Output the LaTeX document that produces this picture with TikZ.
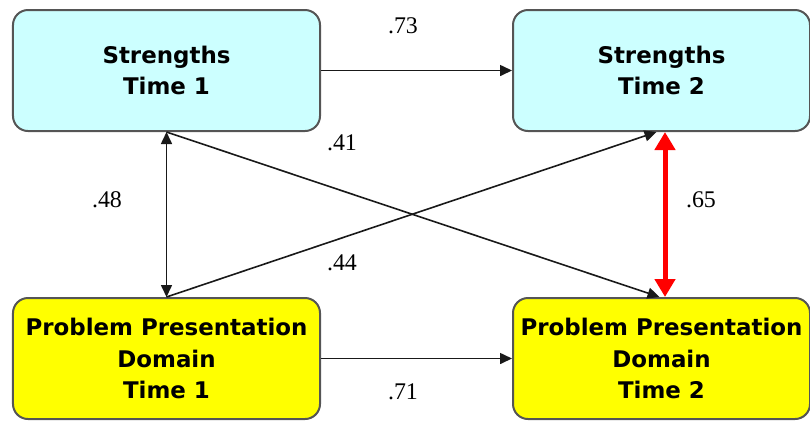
\documentclass[tikz,border=0pt]{standalone}
\usepackage{fontspec}
\setmainfont{Liberation Serif}
\newfontfamily\boxfont{DejaVu Sans}
\usetikzlibrary{arrows.meta}
\definecolor{boxcyan}{HTML}{CCFFFF}
\definecolor{boxyellow}{HTML}{FFFF00}
\definecolor{boxline}{HTML}{555555}
\begin{document}
\begin{tikzpicture}[x=1bp,y=-1bp,
  factor/.style={draw=boxline, line width=2bp, rounded corners=15bp,
    inner sep=0pt, align=center,
    font=\boxfont\bfseries\fontsize{23}{32}\selectfont},
  strength/.style={factor, fill=boxcyan, minimum width=297bp, minimum height=121bp},
  problem/.style={factor, fill=boxyellow, minimum width=297bp, minimum height=121bp},
  path/.style={line width=1.6bp, draw=black!90,
    -{Triangle[length=12bp,width=11bp]}},
  bipath/.style={line width=1.6bp, draw=black!90,
    {Triangle[length=12bp,width=11bp]}-{Triangle[length=12bp,width=11bp]}},
  corr/.style={line width=5bp, draw=red,
    {Triangle[length=18bp,width=20bp]}-{Triangle[length=18bp,width=20bp]}},
  coef/.style={font=\fontsize{24}{26}\selectfont, inner sep=1pt}
]
\useasboundingbox (0,0) rectangle (810,420);

% the four factors
\node[strength, minimum width=307bp] (s1) at (166.5,70.5) {Strengths\\Time 1};
\node[strength] (s2) at (661.5,70.5) {Strengths\\Time 2};
\node[problem, minimum width=307bp] (p1) at (166.5,358.5) {Problem Presentation\\Domain\\Time 1};
\node[problem] (p2) at (661.5,358.5) {Problem Presentation\\Domain\\Time 2};

% stability paths
\draw[path] (s1.east) -- (s2.west);
\draw[path] (p1.east) -- (p2.west);

% cross-lagged paths
\draw[path] (s1.south) -- ([xshift=-2bp]p2.north);
\draw[path] (p1.north) -- ([xshift=-5bp]s2.south);

% correlations
\draw[bipath] (s1.south) -- (p1.north);
\draw[corr] ([xshift=3.5bp]s2.south) -- ([xshift=3.5bp]p2.north);

% coefficients
\node[coef] (c73) at (403,26) {.73};
\node[coef] (c41) at (342,143) {.41};
\node[coef] (c48) at (107,200) {.48};
\node[coef] (c65) at (701,200) {.65};
\node[coef] (c44) at (342,263) {.44};
\node[coef] (c71) at (403,392) {.71};
\end{tikzpicture}
\end{document}
